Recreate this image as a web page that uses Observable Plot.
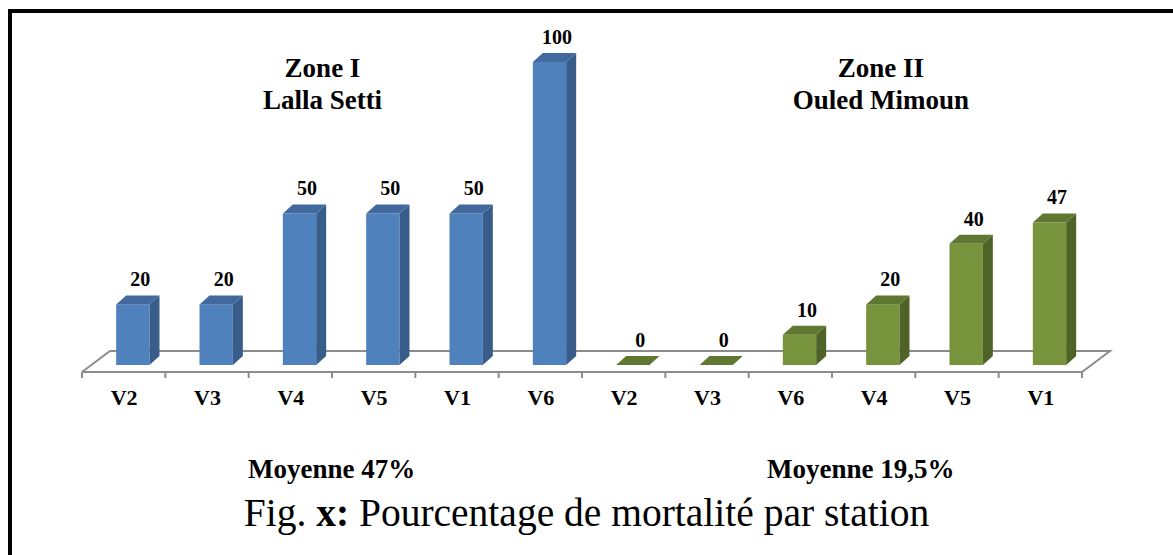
<!DOCTYPE html>
<html>
<head>
<meta charset="utf-8">
<script src="https://cdn.jsdelivr.net/npm/d3@7"></script>
<script src="https://cdn.jsdelivr.net/npm/@observablehq/plot@0.6"></script>
<style>
  html, body { margin: 0; padding: 0; background: #fff; width: 1173px; height: 555px; overflow: hidden; }
  #frame { position: absolute; left: 8px; top: 9px; width: 1300px; height: 700px;
           border-left: 4px solid #000; border-top: 4px solid #000; z-index: 2; pointer-events: none; }
  #chart { position: absolute; left: 0; top: 0; z-index: 1; }
  #caption { position: absolute; left: 0; top: 494px; width: 1173px; text-align: center;
             font-family: "Liberation Serif", "Times New Roman", serif; font-size: 39.5px; line-height: 1; color: #000; z-index: 1; }
</style>
</head>
<body>
<div id="frame"></div>
<div id="chart"></div>
<div id="caption">Fig. <b>x:</b> Pourcentage de mortalité par station</div>
<script>
// ---- data ----
const stations   = ["V2","V3","V4","V5","V1","V6","V2","V3","V6","V4","V5","V1"];
const zoneOf     = ["I","I","I","I","I","I","II","II","II","II","II","II"];
const mortalite  = [20, 20, 50, 50, 50, 100, 0, 0, 10, 20, 40, 47];
const zoneTitles = ["Zone I\nLalla Setti", "Zone II\nOuled Mimoun"];
const moyennes   = ["Moyenne 47%", "Moyenne 19,5%"];

const data = stations.map((s, i) => ({i, station: s, zone: zoneOf[i], value: mortalite[i]}));

const FRONT = {I: "#4F81BD", II: "#77933C"};
const SIDE  = {I: "#385D8A", II: "#4F6228"};
const TOP   = {I: "#42699E", II: "#5E7831"};
const DX = 10, DY = 9;           // bar depth (px)
const FDX = 28, FDY = 21;        // floor depth (px)
const FONT = "Liberation Serif";
const svgNS = "http://www.w3.org/2000/svg";

function poly(pts, fill, stroke) {
  const p = document.createElementNS(svgNS, "path");
  p.setAttribute("d", "M" + pts.map(q => q.join(",")).join("L") + "Z");
  p.setAttribute("fill", fill);
  if (stroke) p.setAttribute("stroke", stroke);
  return p;
}

const floorMark = Plot.ruleY([0], {
  stroke: "none",
  render(index, scales, values, dims, context, next) {
    const g = document.createElementNS(svgNS, "g");
    const xa = scales.x(0), xb = scales.x(stations.length), y0 = scales.y(0) + 7;
    const line = (pts) => {
      const p = document.createElementNS(svgNS, "path");
      p.setAttribute("d", "M" + pts.map(q => q.join(",")).join("L"));
      p.setAttribute("fill", "none");
      p.setAttribute("stroke", "#8c8c8c");
      p.setAttribute("stroke-width", "2");
      p.setAttribute("stroke-linejoin", "miter");
      return p;
    };
    g.appendChild(line([[xa, y0], [xa + FDX, y0 - FDY], [xb + FDX, y0 - FDY], [xb, y0], [xa, y0]]));
    for (let k = 0; k <= stations.length; ++k) {
      const x = scales.x(k);
      g.appendChild(line([[x, y0], [x, y0 + 6]]));
    }
    return g;
  }
});

const barMark = Plot.rect(data, {
  x1: d => d.i + 0.41,
  x2: d => d.i + 0.81,
  y1: 0,
  y2: "value",
  fill: d => FRONT[d.zone],
  render(index, scales, values, dims, context, next) {
    const g = next(index, scales, values, dims, context);
    for (const i of index) {
      const l = Math.min(values.x1[i], values.x2[i]), r = Math.max(values.x1[i], values.x2[i]);
      const b = Math.max(values.y1[i], values.y2[i]), t = Math.min(values.y1[i], values.y2[i]);
      const z = data[i].zone;
      if (b - t > 0.5) g.appendChild(poly([[r, t], [r + DX, t - DY], [r + DX, b - DY], [r, b]], SIDE[z]));
      g.appendChild(poly([[l, t], [r, t], [r + DX, t - DY], [l + DX, t - DY]], TOP[z]));
    }
    return g;
  }
});

const chart = Plot.plot({
  width: 1173,
  height: 490,
  marginLeft: 82,
  marginRight: 91,
  marginTop: 62,
  marginBottom: 125,
  style: {background: "transparent", overflow: "visible"},
  x: {domain: [0, stations.length], axis: null},
  y: {domain: [0, 100], axis: null},
  color: {type: "identity"},
  marks: [
    floorMark,
    barMark,
    Plot.text(data, {
      x: d => d.i + 0.61, y: "value", text: d => String(d.value),
      dx: 7, dy: -25, fontWeight: "bold", fontSize: 20, fontFamily: FONT, fill: "#000"
    }),
    Plot.text(data, {
      x: d => d.i + 0.5, frameAnchor: "bottom", text: "station",
      dy: 32, lineAnchor: "middle", fontWeight: "bold", fontSize: 22, fontFamily: FONT, fill: "#000"
    }),
    Plot.text(zoneTitles, {
      x: [2.88, 9.58], frameAnchor: "top", text: d => d,
      dy: 46, lineAnchor: "bottom", lineHeight: 1.17,
      fontWeight: "bold", fontSize: 27, fontFamily: FONT, fill: "#000"
    }),
    Plot.text(moyennes, {
      x: [2.99, 9.34], frameAnchor: "bottom", text: d => d,
      dy: 112, lineAnchor: "bottom",
      fontWeight: "bold", fontSize: 27, fontFamily: FONT, fill: "#000"
    })
  ]
});
document.getElementById("chart").appendChild(chart);
</script>
</body>
</html>
